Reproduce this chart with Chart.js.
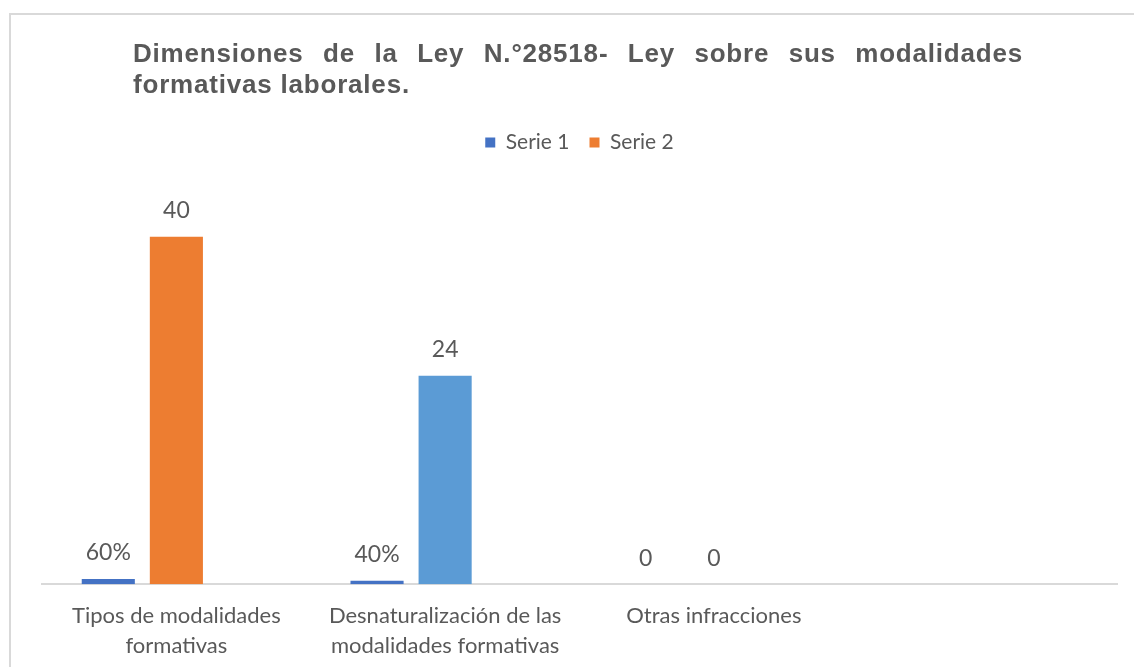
<!DOCTYPE html>
<html>
<head>
<meta charset="utf-8">
<script src="https://cdn.jsdelivr.net/npm/chart.js@4.4.1/dist/chart.umd.min.js"></script>
<style>
  html, body { margin: 0; padding: 0; background: #fff; overflow: hidden; }
  #wrap { position: relative; width: 1134px; height: 667px; overflow: hidden; }
  #frame { position: absolute; left: 9px; top: 13px; width: 1200px; height: 700px;
           border-top: 2px solid #d9d9d9; border-left: 2px solid #d9d9d9; box-sizing: border-box; }
  canvas { position: absolute; left: 0; top: 0; }
</style>
</head>
<body>
<div id="wrap">
  <div id="frame"></div>
  <canvas id="c" width="1134" height="682"></canvas>
</div>
<script>
// ---- data ----
const titleLines = ["Dimensiones de la Ley N.°28518- Ley sobre sus modalidades", "formativas laborales."];
const categories = [["Tipos de modalidades", "formativas"], ["Desnaturalización de las", "modalidades formativas"], "Otras infracciones", ""];
const seriesNames = ["Serie 1", "Serie 2", "Serie 3"];
const serie1 = [0.6, 0.4, 0, null];
const serie2 = [40, 24, 0, null];
const serie3 = [null, null, null, null];
const serie1Labels = ["60%", "40%", "0", ""];
const serie2Labels = ["40", "24", "0", ""];

const BLUE = "#4472C4", ORANGE = "#ED7D31", LIGHTBLUE = "#5B9BD5", GREY = "#595959";
const labelFont = "Lato";

const titlePlugin = {
  id: "justTitle",
  afterDraw(chart) {
    const ctx = chart.ctx;
    ctx.save();
    ctx.fillStyle = GREY;
    ctx.font = "bold 26px 'Liberation Sans', Arial, sans-serif";
    ctx.letterSpacing = "0.8px";
    ctx.textBaseline = "alphabetic";
    const left = 133, right = 1023;
    const words = titleLines[0].split(" ");
    const wsum = words.reduce((s, w) => s + ctx.measureText(w).width, 0);
    const gap = (right - left - wsum) / (words.length - 1);
    let x = left;
    words.forEach(w => { ctx.fillText(w, x, 62); x += ctx.measureText(w).width + gap; });
    ctx.fillText(titleLines[1], left, 93);
    ctx.restore();
  }
};

const valueLabels = {
  id: "valueLabels",
  afterDatasetsDraw(chart) {
    const ctx = chart.ctx;
    const sets = [serie1Labels, serie2Labels];
    ctx.save();
    ctx.fillStyle = GREY;
    ctx.font = "23px " + labelFont;
    ctx.textAlign = "center";
    ctx.textBaseline = "middle";
    sets.forEach((labels, di) => {
      const meta = chart.getDatasetMeta(di);
      meta.data.forEach((el, i) => {
        if (!labels[i]) return;
        ctx.fillText(labels[i], el.x, el.y - 26);
      });
    });
    ctx.restore();
  }
};

new Chart(document.getElementById("c"), {
  type: "bar",
  data: {
    labels: categories,
    datasets: [
      { label: seriesNames[0], data: serie1, backgroundColor: BLUE, legendColor: BLUE },
      { label: seriesNames[1], data: serie2, backgroundColor: [ORANGE, LIGHTBLUE, ORANGE, ORANGE], legendColor: ORANGE },
      { label: seriesNames[2], data: serie3, backgroundColor: "#A5A5A5", legendColor: "#A5A5A5" }
    ]
  },
  options: {
    responsive: false,
    animation: false,
    categoryPercentage: 0.76,
    barPercentage: 0.78,
    layout: { padding: { left: 42, right: 17, top: 112, bottom: 4 } },
    plugins: {
      title: { display: false },
      tooltip: { enabled: false },
      legend: {
        position: "top",
        labels: {
          boxWidth: 10, boxHeight: 10, padding: 20,
          color: GREY,
          font: { family: labelFont, size: 21 },
          filter: (item) => item.datasetIndex < 2,
          generateLabels(chart) {
            return chart.data.datasets.map((ds, i) => ({
              text: ds.label, fillStyle: ds.legendColor, strokeStyle: ds.legendColor,
              lineWidth: 0, hidden: false, datasetIndex: i, fontColor: GREY
            }));
          }
        }
      }
    },
    scales: {
      x: {
        grid: { display: false, drawTicks: false },
        border: { display: true, color: "#d9d9d9", width: 2 },
        ticks: { color: GREY, font: { family: labelFont, size: 22, lineHeight: 1.36 }, padding: 17, maxRotation: 0, autoSkip: false }
      },
      y: {
        display: false,
        min: 0,
        max: 48.5
      }
    }
  },
  plugins: [titlePlugin, valueLabels]
});
</script>
</body>
</html>
